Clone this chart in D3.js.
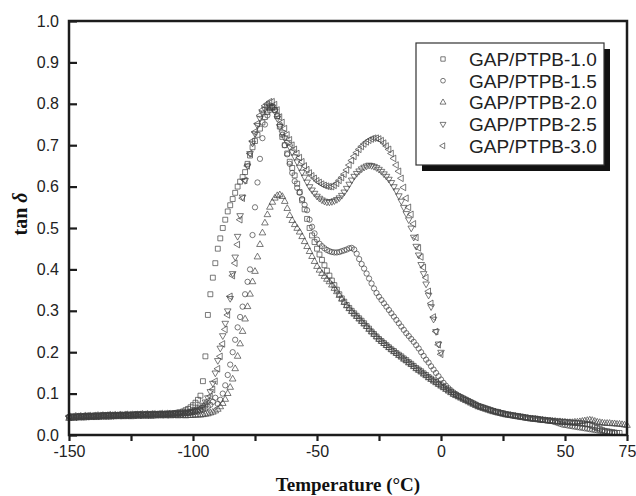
<!DOCTYPE html>
<html><head><meta charset="utf-8">
<script src="https://cdn.jsdelivr.net/npm/d3@7"></script>
<style>body{margin:0;background:#fff}svg{display:block}</style>
</head><body><svg id="c" width="636" height="496"></svg>
<script>
// Temperature grid (°C), index 0 = -150, 1 °C sampling
const temps = d3.range(-150, 76, 1);
const xTicks = [-150,-125,-100,-75,-50,-25,0,25,50,75];
const xTickLabels = ["-150","","-100","","-50","","0","","50","75"];
const yTicks = [0,0.1,0.2,0.3,0.4,0.5,0.6,0.7,0.8,0.9,1.0];
const seriesNames = ["GAP/PTPB-1.0","GAP/PTPB-1.5","GAP/PTPB-2.0","GAP/PTPB-2.5","GAP/PTPB-3.0"];

const gap10 = [
0.042,0.043,0.044,0.043,0.045,0.044,0.045,0.046,0.045,0.046,
0.046,0.047,0.046,0.047,0.048,0.047,0.048,0.048,0.047,0.048,
0.048,0.049,0.048,0.049,0.049,0.048,0.049,0.05,0.049,0.05,
0.049,0.05,0.05,0.049,0.05,0.05,0.051,0.05,0.051,0.051,
0.051,0.052,0.052,0.053,0.054,0.055,0.057,0.06,0.063,0.067,
0.072,0.078,0.085,0.095,0.13,0.19,0.29,0.34,0.38,0.415,
0.45,0.475,0.5,0.52,0.54,0.555,0.57,0.585,0.6,0.612,
0.623,0.635,0.655,0.675,0.695,0.71,0.725,0.74,0.755,0.768,
0.78,0.79,0.793,0.785,0.77,0.745,0.72,0.70,0.68,0.66,
0.645,0.627,0.607,0.587,0.567,0.545,0.522,0.5,0.482,0.466,
0.45,0.436,0.423,0.41,0.397,0.385,0.373,0.362,0.351,0.34,
0.33,0.322,0.314,0.307,0.3,0.294,0.288,0.282,0.276,0.27,
0.263,0.257,0.25,0.244,0.238,0.232,0.227,0.222,0.217,0.212,
0.207,0.203,0.198,0.194,0.19,0.185,0.181,0.176,0.172,0.167,
0.162,0.158,0.154,0.149,0.145,0.14,0.136,0.132,0.128,0.124,
0.12,0.116,0.112,0.108,0.104,0.1,0.097,0.094,0.091,0.088,
0.085,0.082,0.079,0.076,0.073,0.07,0.068,0.066,0.064,0.062,
0.06,0.058,0.056,0.055,0.053,0.052,0.05,0.049,0.048,0.047,
0.046,0.045,0.044,0.043,0.042,0.041,0.04,0.039,0.039,0.038,
0.037,0.036,0.036,0.035,0.035,0.034,0.033,0.033,0.032,0.032,
0.031,0.031,0.03,0.03,0.029,0.029,0.028,0.028,0.027,0.026,
0.025,0.022,0.019,0.017,0.015,0.012,0.01,0.009,0.008,0.007,0.006,0.005,0.005];

const gap15 = [
0.044,0.045,0.044,0.046,0.045,0.046,0.045,0.046,0.047,0.046,
0.047,0.046,0.047,0.047,0.048,0.047,0.048,0.047,0.048,0.048,
0.048,0.049,0.048,0.049,0.048,0.049,0.049,0.05,0.049,0.05,
0.049,0.05,0.05,0.05,0.051,0.05,0.051,0.051,0.05,0.051,
0.051,0.051,0.052,0.051,0.052,0.052,0.052,0.053,0.053,0.054,
0.055,0.056,0.057,0.059,0.061,0.064,0.068,0.073,0.08,0.09,
0.075,0.085,0.1,0.12,0.145,0.17,0.2,0.23,0.26,0.285,
0.31,0.34,0.37,0.40,0.483,0.55,0.61,0.667,0.717,0.75,
0.772,0.785,0.79,0.785,0.77,0.75,0.725,0.7,0.678,0.655,
0.633,0.613,0.597,0.585,0.57,0.556,0.543,0.52,0.503,0.487,
0.472,0.462,0.456,0.451,0.447,0.444,0.442,0.441,0.441,0.442,
0.444,0.446,0.448,0.451,0.452,0.448,0.438,0.425,0.413,0.402,
0.39,0.378,0.366,0.354,0.343,0.334,0.326,0.318,0.31,0.302,
0.294,0.286,0.278,0.27,0.262,0.254,0.246,0.239,0.232,0.225,
0.217,0.209,0.2,0.191,0.182,0.175,0.166,0.158,0.15,0.142,
0.134,0.126,0.119,0.113,0.108,0.103,0.099,0.095,0.092,0.089,
0.086,0.083,0.08,0.077,0.074,0.071,0.069,0.067,0.065,0.063,
0.061,0.059,0.057,0.056,0.054,0.053,0.051,0.05,0.049,0.048,
0.047,0.046,0.045,0.044,0.043,0.042,0.041,0.04,0.04,0.039,
0.038,0.037,0.036,0.035,0.034,0.033,0.031,0.029,0.027,0.025,
0.024,0.023,0.022,0.021,0.02,0.019,0.018,0.017,0.016,0.015,
0.014,0.013,0.012,0.011,0.01,0.009,0.008,0.007,0.006,0.005,0.005];

const gap20 = [
0.04,0.041,0.04,0.042,0.041,0.042,0.041,0.042,0.043,0.042,
0.043,0.042,0.043,0.044,0.043,0.044,0.043,0.044,0.044,0.045,
0.044,0.045,0.044,0.045,0.045,0.044,0.045,0.046,0.045,0.046,
0.045,0.046,0.046,0.045,0.046,0.046,0.047,0.046,0.047,0.046,
0.047,0.046,0.047,0.047,0.046,0.047,0.047,0.046,0.047,0.047,
0.047,0.048,0.048,0.048,0.049,0.05,0.051,0.053,0.055,0.058,
0.062,0.068,0.076,0.086,0.1,0.115,0.135,0.16,0.19,0.22,
0.25,0.28,0.31,0.34,0.37,0.395,0.43,0.46,0.488,0.512,
0.532,0.55,0.562,0.572,0.578,0.58,0.576,0.564,0.547,0.53,
0.518,0.508,0.499,0.49,0.479,0.467,0.455,0.443,0.431,0.419,
0.407,0.398,0.39,0.383,0.376,0.37,0.362,0.354,0.346,0.337,
0.328,0.32,0.312,0.305,0.298,0.292,0.286,0.28,0.274,0.268,
0.262,0.255,0.249,0.243,0.237,0.231,0.226,0.221,0.216,0.211,
0.206,0.201,0.197,0.192,0.188,0.183,0.179,0.174,0.17,0.165,
0.16,0.156,0.152,0.147,0.143,0.138,0.134,0.13,0.126,0.122,
0.118,0.114,0.11,0.106,0.102,0.098,0.095,0.092,0.089,0.086,
0.083,0.08,0.077,0.074,0.071,0.068,0.066,0.064,0.062,0.06,
0.058,0.056,0.055,0.053,0.052,0.05,0.049,0.048,0.047,0.046,
0.045,0.044,0.043,0.042,0.041,0.04,0.039,0.039,0.038,0.037,
0.036,0.036,0.035,0.034,0.034,0.033,0.033,0.032,0.032,0.031,
0.031,0.03,0.03,0.03,0.031,0.031,0.032,0.033,0.034,0.035,
0.036,0.035,0.033,0.031,0.03,0.029,0.028,0.028,0.028,0.027,
0.027,0.026,0.026,0.025,0.024,0.023];

const gap25 = [
0.043,0.044,0.045,0.044,0.045,0.046,0.045,0.046,0.045,0.046,
0.046,0.047,0.046,0.047,0.047,0.048,0.047,0.048,0.047,0.048,
0.048,0.049,0.048,0.049,0.048,0.049,0.05,0.049,0.05,0.049,
0.05,0.05,0.049,0.05,0.051,0.05,0.051,0.05,0.051,0.051,
0.051,0.052,0.051,0.052,0.052,0.053,0.053,0.054,0.055,0.056,
0.058,0.06,0.063,0.067,0.072,0.08,0.09,0.105,0.125,0.15,
0.18,0.21,0.24,0.27,0.3,0.33,0.39,0.43,0.48,0.53,
0.575,0.615,0.65,0.68,0.705,0.728,0.748,0.765,0.778,0.787,
0.793,0.795,0.792,0.782,0.765,0.745,0.73,0.718,0.707,0.696,
0.684,0.672,0.66,0.647,0.635,0.623,0.611,0.6,0.592,0.584,
0.577,0.572,0.568,0.565,0.563,0.563,0.564,0.566,0.569,0.573,
0.579,0.587,0.596,0.606,0.616,0.625,0.632,0.638,0.643,0.647,
0.65,0.652,0.651,0.649,0.646,0.642,0.637,0.631,0.625,0.618,
0.61,0.6,0.59,0.578,0.565,0.55,0.535,0.52,0.5,0.478,
0.456,0.435,0.412,0.39,0.365,0.338,0.31,0.28,0.25,0.22,0.2];

const gap30 = [
0.045,0.044,0.046,0.045,0.046,0.045,0.047,0.046,0.047,0.046,
0.047,0.048,0.047,0.048,0.047,0.048,0.049,0.048,0.049,0.048,
0.049,0.048,0.049,0.05,0.049,0.05,0.049,0.05,0.05,0.051,
0.05,0.051,0.05,0.051,0.051,0.05,0.051,0.052,0.051,0.052,
0.052,0.051,0.052,0.053,0.052,0.053,0.054,0.054,0.055,0.056,
0.057,0.059,0.061,0.064,0.068,0.074,0.082,0.094,0.11,0.13,
0.16,0.19,0.22,0.255,0.29,0.335,0.385,0.415,0.46,0.52,
0.572,0.615,0.65,0.68,0.71,0.732,0.752,0.772,0.785,0.795,
0.8,0.805,0.805,0.798,0.785,0.768,0.755,0.74,0.725,0.713,
0.70,0.69,0.68,0.67,0.66,0.65,0.641,0.633,0.626,0.62,
0.614,0.61,0.606,0.603,0.601,0.6,0.6,0.603,0.608,0.615,
0.622,0.63,0.64,0.652,0.663,0.673,0.682,0.69,0.697,0.703,
0.708,0.712,0.715,0.717,0.717,0.715,0.711,0.705,0.698,0.69,
0.68,0.668,0.652,0.637,0.62,0.598,0.572,0.55,0.533,0.51,
0.477,0.452,0.43,0.405,0.38,0.347,0.318,0.285,0.25,0.218,0.195];

const seriesValues = [gap10, gap15, gap20, gap25, gap30];

const svg = d3.select("#c");
const L = 69, R = 627, T = 21, B = 435;
const x = d3.scaleLinear().domain([-150, 75]).range([L, R]);
const y = d3.scaleLinear().domain([0, 1]).range([B, T]);

const ink = "#1c1c1c";
const sym = [
  {type: d3.symbolSquare, size: 24, rot: 0},
  {type: d3.symbolCircle, size: 22, rot: 0},
  {type: d3.symbolTriangle, size: 19, rot: 0},
  {type: d3.symbolTriangle, size: 19, rot: 180},
  {type: d3.symbolTriangle, size: 19, rot: -90}
];

// markers
const plot = svg.append("g");
seriesValues.forEach((vals, si) => {
  const pts = vals.map((v, i) => ({t: temps[i], v}));
  const path = d3.symbol().type(sym[si].type).size(sym[si].size)();
  plot.append("g").selectAll("path").data(pts).join("path")
    .attr("d", path)
    .attr("transform", d => `translate(${x(d.t)},${y(d.v)}) rotate(${sym[si].rot})`)
    .attr("fill", "none").attr("stroke", "#404040").attr("stroke-width", 0.7);
});

// frame
svg.append("rect").attr("x", L).attr("y", T).attr("width", R - L).attr("height", B - T)
  .attr("fill", "none").attr("stroke", ink).attr("stroke-width", 2.5);

// axes
const fontTick = "'Liberation Sans', Arial, sans-serif";
const xAxis = d3.axisBottom(x).tickValues(xTicks).tickSize(6)
  .tickFormat((d, i) => xTickLabels[i]);
const gx = svg.append("g").attr("transform", `translate(0,${B})`).call(xAxis);
gx.select(".domain").remove();
gx.selectAll(".tick line").attr("stroke", ink).attr("stroke-width", 2.2);
gx.selectAll(".tick text").attr("font-family", fontTick).attr("font-size", 16)
  .attr("fill", "#222").attr("dy", "0.71em").attr("y", 11);

const yAxis = d3.axisLeft(y).tickValues(yTicks).tickSize(-8).tickFormat(d3.format(".1f"));
const gy = svg.append("g").attr("transform", `translate(${L},0)`).call(yAxis);
gy.select(".domain").remove();
gy.selectAll(".tick line").attr("stroke", ink).attr("stroke-width", 2.2);
gy.selectAll(".tick text").attr("font-family", fontTick).attr("font-size", 16)
  .attr("fill", "#222").attr("x", -10);

// axis titles
svg.append("text").attr("x", (L + R) / 2).attr("y", 491)
  .attr("text-anchor", "middle").attr("font-family", "'Liberation Serif', 'Times New Roman', serif")
  .attr("font-weight", "bold").attr("font-size", 19).attr("fill", "#111")
  .text("Temperature (°C)");
const yt = svg.append("text").attr("transform", "translate(27,214) rotate(-90)")
  .attr("text-anchor", "middle").attr("font-family", "'Liberation Serif', 'Times New Roman', serif")
  .attr("font-weight", "bold").attr("font-size", 20).attr("fill", "#111");
yt.append("tspan").text("tan ");
yt.append("tspan").attr("font-style", "italic").text("δ");

// legend
const lg = svg.append("g");
lg.append("rect").attr("x", 422).attr("y", 49).attr("width", 188).attr("height", 122).attr("fill", "#111");
lg.append("rect").attr("x", 416).attr("y", 43).attr("width", 188).attr("height", 122)
  .attr("fill", "#fff").attr("stroke", "#333").attr("stroke-width", 1.2);
seriesNames.forEach((name, i) => {
  const cy = 59 + i * 21.7;
  lg.append("path").attr("d", d3.symbol().type(sym[i].type).size(sym[i].size * 0.8)())
    .attr("transform", `translate(443,${cy}) rotate(${sym[i].rot})`)
    .attr("fill", "none").attr("stroke", "#404040").attr("stroke-width", 0.7);
  lg.append("text").attr("x", 469).attr("y", cy).attr("dy", "0.36em")
    .attr("font-family", fontTick).attr("font-size", 19).attr("fill", "#222").text(name);
});
</script></body></html>
